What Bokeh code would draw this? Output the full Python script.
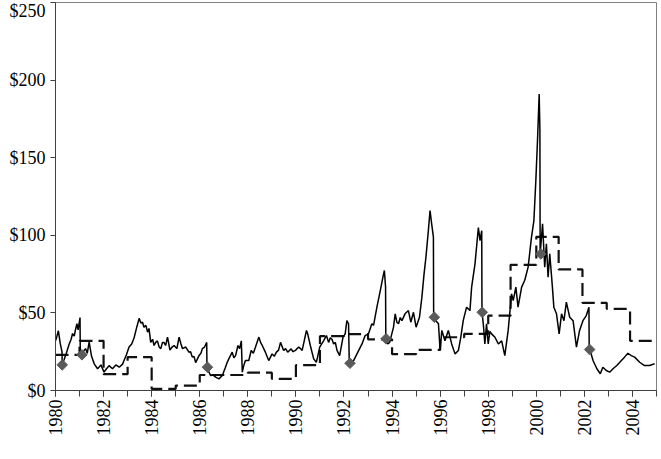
import numpy as np
from bokeh.plotting import figure
from bokeh.models import Range1d, FixedTicker, NumeralTickFormatter, PrintfTickFormatter
from bokeh.embed import file_html
from bokeh.resources import INLINE

# Solid price series (year, $)
solid_year = [
    1980.00, 1980.06, 1980.12, 1980.20, 1980.27, 1980.28, 1980.36, 1980.45, 1980.57, 1980.65,
    1980.71, 1980.78, 1980.83, 1980.89, 1980.94, 1981.02, 1981.03, 1981.10, 1981.14, 1981.25,
    1981.32, 1981.40, 1981.50, 1981.61, 1981.75, 1981.89, 1982.02, 1982.12, 1982.23, 1982.37,
    1982.51, 1982.65, 1982.79, 1982.85, 1982.95, 1983.06, 1983.17, 1983.27, 1983.38, 1983.48,
    1983.55, 1983.62, 1983.68, 1983.76, 1983.83, 1983.89, 1983.96, 1984.04, 1984.10, 1984.17,
    1984.24, 1984.31, 1984.38, 1984.45, 1984.51, 1984.58, 1984.66, 1984.76, 1984.85, 1984.93,
    1985.05, 1985.14, 1985.22, 1985.28, 1985.42, 1985.55, 1985.62, 1985.69, 1985.76, 1985.83,
    1985.97, 1986.05, 1986.11, 1986.20, 1986.29, 1986.30, 1986.38, 1986.45, 1986.55, 1986.66,
    1986.80, 1986.94, 1987.07, 1987.14, 1987.21, 1987.35, 1987.42, 1987.49, 1987.59, 1987.66,
    1987.73, 1987.77, 1987.83, 1987.90, 1988.04, 1988.14, 1988.23, 1988.32, 1988.46, 1988.53,
    1988.60, 1988.73, 1988.87, 1989.01, 1989.10, 1989.19, 1989.28, 1989.36, 1989.49, 1989.57,
    1989.66, 1989.80, 1989.88, 1989.98, 1990.05, 1990.12, 1990.19, 1990.26, 1990.36, 1990.44,
    1990.49, 1990.60, 1990.74, 1990.85, 1990.90, 1990.99, 1991.15, 1991.27, 1991.36, 1991.43,
    1991.50, 1991.57, 1991.64, 1991.71, 1991.82, 1991.96, 1992.05, 1992.12, 1992.19, 1992.22,
    1992.30, 1992.40, 1992.54, 1992.65, 1992.75, 1992.88, 1993.02, 1993.16, 1993.23, 1993.37,
    1993.51, 1993.62, 1993.68, 1993.73, 1993.74, 1993.82, 1993.90, 1994.06, 1994.13, 1994.20,
    1994.27, 1994.34, 1994.41, 1994.54, 1994.68, 1994.78, 1994.89, 1995.00, 1995.14, 1995.24,
    1995.33, 1995.41, 1995.51, 1995.58, 1995.65, 1995.72, 1995.73, 1995.82, 1995.93, 1996.00,
    1996.07, 1996.20, 1996.34, 1996.48, 1996.62, 1996.76, 1996.86, 1996.96, 1997.10, 1997.24,
    1997.31, 1997.45, 1997.59, 1997.66, 1997.73, 1997.74, 1997.80, 1997.86, 1997.93, 1998.00,
    1998.07, 1998.14, 1998.28, 1998.42, 1998.56, 1998.69, 1998.83, 1998.97, 1999.04, 1999.15,
    1999.24, 1999.39, 1999.52, 1999.66, 1999.80, 1999.90, 1999.98, 2000.05, 2000.12, 2000.15,
    2000.16, 2000.26, 2000.35, 2000.42, 2000.49, 2000.56, 2000.67, 2000.73, 2000.84, 2000.95,
    2001.05, 2001.15, 2001.25, 2001.39, 2001.53, 2001.67, 2001.80, 2001.94, 2002.08, 2002.19,
    2002.20, 2002.36, 2002.52, 2002.66, 2002.77, 2002.91, 2003.05, 2003.19, 2003.35, 2003.54,
    2003.67, 2003.81, 2003.95, 2004.09, 2004.30, 2004.50, 2004.71, 2004.92,
]
solid_price = [
    32, 35, 38.5, 30, 25, 17, 20, 24, 30, 33,
    36.7, 35, 39, 43, 39, 47, 25, 23, 24.7, 27,
    24, 31.2, 22, 17.2, 14, 16.5, 11.8, 14, 16, 14,
    16.5, 15, 17, 19.3, 23, 28, 30, 34, 40.8, 46.5,
    43.5, 44, 40.8, 42, 37.6, 40, 31, 33, 29, 31,
    32, 28, 27, 31, 31, 29, 34.4, 26, 28, 29,
    27, 34.4, 30, 27, 28, 24.7, 25, 21.5, 22, 18,
    22.5, 24, 27, 28, 31, 15, 12, 9.7, 10, 8.6,
    7.5, 9.7, 15, 18, 20.4, 24.7, 21, 22.5, 29, 27,
    32, 11.8, 16, 19.3, 19.3, 25.8, 24, 28, 34.4, 31,
    29, 24.7, 19.3, 23.6, 22, 24.7, 26, 31, 25.8, 27,
    24.7, 26.8, 25, 25.8, 27, 28, 27, 25.8, 33, 38.7,
    36.5, 29, 20.4, 18.2, 21.5, 28, 32, 35.4, 31, 34,
    33, 30, 31, 25.8, 22.5, 34.4, 36.5, 45, 43, 18,
    16, 19.3, 23.6, 27, 30, 35.4, 36.5, 43, 42, 53.7,
    64.4, 73, 77.3, 66.6, 34, 30, 31, 40.8, 49.4, 44,
    43, 47, 45, 49.4, 51.5, 44, 50.4, 40.8, 47.2, 60,
    75, 86, 103, 116, 107, 98.8, 48, 45, 43, 25.8,
    38.7, 32, 38.7, 30, 23.6, 25.8, 34.4, 45, 53.7, 51.5,
    66.6, 81.6, 105, 96.6, 103, 51, 42, 30, 42.9, 30,
    38, 36.5, 34.3, 30, 32, 22.5, 38.7, 62.3, 58, 66.6,
    53.7, 66.6, 71, 79.5, 98.8, 109.5, 135, 161, 191, 167.5,
    88, 107.4, 79.5, 94.5, 73, 88, 66.6, 53.7, 49.4, 36.5,
    49.4, 45, 56.9, 47.2, 45, 28, 38.7, 45, 48.3, 53.7,
    28, 19.3, 14, 10.8, 15, 12.9, 11.8, 14, 16.1, 19.3,
    21.5, 24, 22.5, 21.5, 18.2, 16.1, 16.1, 17.2,
]

# Dashed step series (start of each step, value)
step_year = [1980, 1981, 1982, 1983, 1984, 1985, 1986, 1987, 1988, 1989, 1990, 1991,
             1992, 1993, 1994, 1995, 1996, 1997, 1998, 1998.93, 2000, 2000.93, 2001.92,
             2002.93, 2003.9, 2005]
step_price = [23, 32, 10.5, 21.5, 1, 3.2, 10, 10, 11.5, 7.5, 16.3, 35,
              36.3, 33, 23.4, 26.2, 34.3, 36.5, 48.2, 81, 99, 78, 56.5,
              52.6, 32, 32]

# Diamond markers
diamond_year = [1980.28, 1981.10, 1986.32, 1992.25, 1993.75, 1995.76, 1997.75, 2000.19, 2002.22]
diamond_price = [16.5, 23, 15, 17.6, 33.3, 47.2, 50.4, 88, 26.4]

y_ticks = [0, 50, 100, 150, 200, 250]
x_major_ticks = list(range(1980, 2005, 2))
x_minor_ticks = list(range(1980, 2006))

FONT = "Liberation Serif"

p = figure(width=661, height=459, x_range=Range1d(1980, 2005), y_range=Range1d(0, 250),
           output_backend="svg", toolbar_location=None,
           min_border_left=55, min_border_right=5, min_border_top=2, min_border_bottom=69)
p.xgrid.visible = False
p.ygrid.visible = False
p.outline_line_color = "#808080"
p.outline_line_width = 1
p.background_fill_color = "white"
p.border_fill_color = "white"

p.step(step_year, step_price, mode="after", line_color="#111111", line_width=2.2, line_dash="13 6")
p.line(solid_year, solid_price, line_color="black", line_width=1.5)
p.scatter(diamond_year, diamond_price, marker="square", angle=np.pi / 4, size=7.5,
          fill_color="#5a5a5a", line_color="#5a5a5a")

xa = p.xaxis[0]
xa.ticker = FixedTicker(ticks=x_major_ticks, minor_ticks=x_minor_ticks)
xa.formatter = PrintfTickFormatter(format="%d")
xa.major_label_orientation = np.pi / 2
xa.major_tick_out = 6
xa.major_tick_in = 0
xa.minor_tick_out = 6
xa.minor_tick_in = 0
xa.axis_line_color = "#404040"
xa.major_tick_line_color = "#404040"
xa.minor_tick_line_color = "#404040"
xa.major_label_text_font = FONT
xa.major_label_text_font_size = "18px"
xa.major_label_text_color = "black"
xa.major_label_standoff = 3

ya = p.yaxis[0]
ya.ticker = FixedTicker(ticks=y_ticks)
ya.formatter = NumeralTickFormatter(format="$0")
ya.major_tick_out = 5
ya.major_tick_in = 0
ya.minor_tick_line_color = None
ya.axis_line_color = "#404040"
ya.major_tick_line_color = "#404040"
ya.major_label_text_font = FONT
ya.major_label_text_font_size = "18px"
ya.major_label_text_color = "black"
ya.major_label_standoff = 5

open("out.html", "w").write(file_html(p, INLINE))
